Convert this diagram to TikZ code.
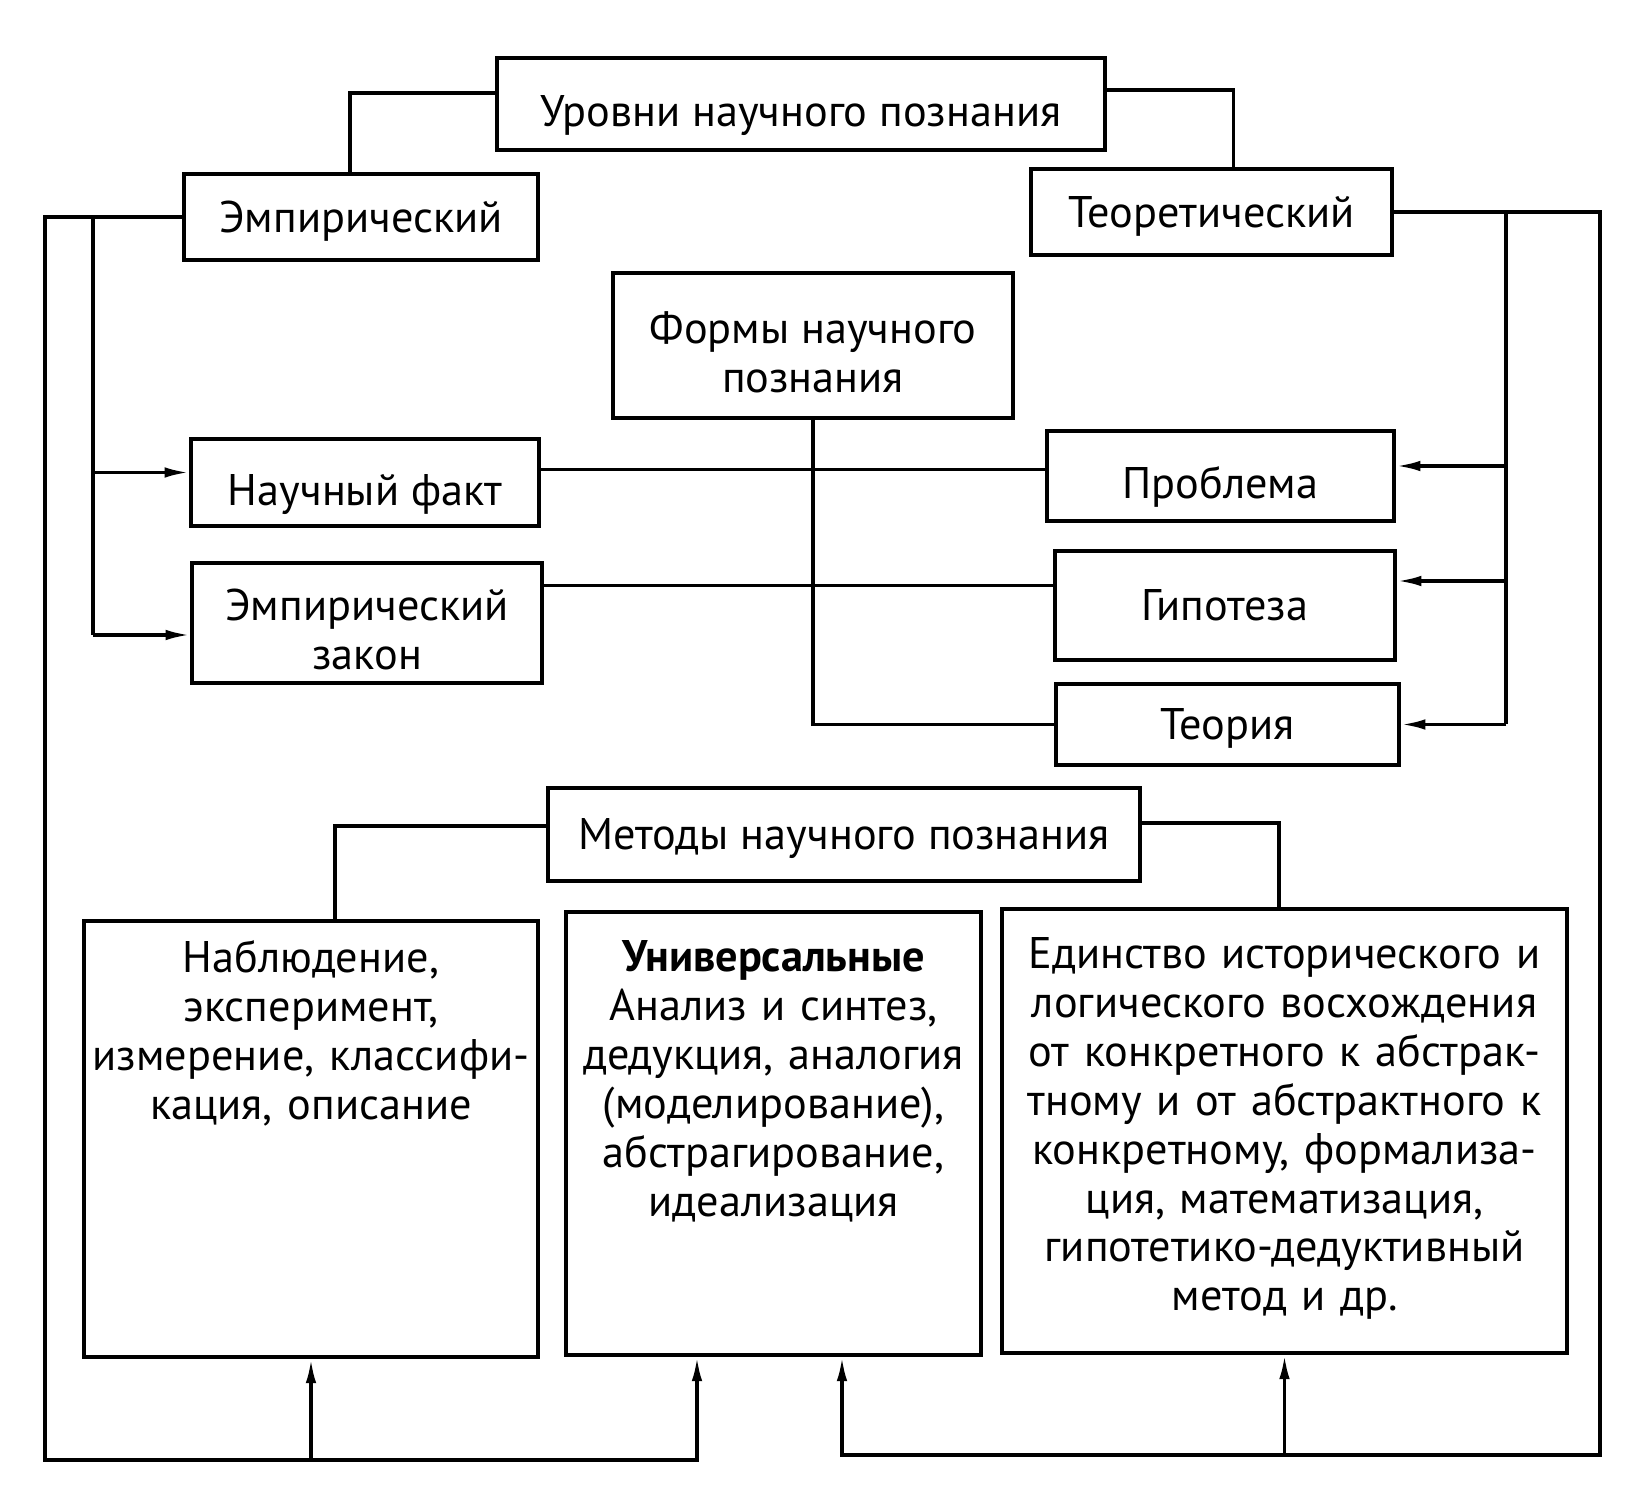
\documentclass[tikz,border=0pt]{standalone}
\usepackage{fontspec}
\setmainfont{PT Sans}
\usetikzlibrary{arrows.meta}

\begin{document}
\begin{tikzpicture}[
        box/.style={draw, line width=1pt, inner sep=2pt, font=\fontsize{12.6}{13.9}\selectfont, text height=8.8pt, text depth=0pt},
        lowbox/.style={box, text height=13pt},
        twobox/.style={box, align=center, text height=26.5pt},
        bigbox/.style={box, anchor=north, align=center, inner ysep=0pt},
        arr/.style={-{Latex[length=7pt, width=3pt]}},
        line width=1pt
    ]
        \useasboundingbox (0, 0) rectangle (16.5, -14.9);
        \node[lowbox, minimum width=6.08cm, minimum height=0.92cm] at (8.01, -1.04) (urovni) {Уровни научного познания};
        \node[box, minimum width=3.54cm, minimum height=0.86cm] at (3.61, -2.17) (emp) {Эмпирический};
        \node[box, minimum width=3.61cm, minimum height=0.86cm] at (12.115, -2.12) (teor) {Теоретический};
        \node[twobox, minimum width=4.00cm, minimum height=1.45cm] at (8.13, -3.455) (formy) {Формы научного\\познания};
        \node[lowbox, minimum width=3.48cm, minimum height=0.87cm] at (3.65, -4.825) (fakt) {Научный факт};
        \node[twobox, minimum width=3.50cm, minimum height=1.20cm] at (3.67, -6.23) (zakon) {Эмпирический\\закон};
        \node[lowbox, minimum width=3.47cm, minimum height=0.90cm] at (12.205, -4.76) (problema) {Проблема};
        \node[box, minimum width=3.40cm, minimum height=1.09cm] at (12.25, -6.055) (gipoteza) {Гипотеза};
        \node[box, minimum width=3.43cm, minimum height=0.81cm] at (12.275, -7.245) (teoriya) {Теория};
        \node[box, minimum width=5.92cm, minimum height=0.93cm] at (8.44, -8.345) (metody) {Методы научного познания};
        \node[bigbox, text width=4.40cm, text height=0.52cm, text depth=3.84cm] at (3.11, -9.19) (nabl) {Наблюдение,\\эксперимент,\\измерение, классифи-\\кация, описание};
        \node[bigbox, text width=4.01cm, text height=0.60cm, text depth=3.83cm] at (7.735, -9.10) (univ) {\textbf{Универсальные}\\Анализ и синтез,\\дедукция, аналогия\\(моделирование),\\абстрагирование,\\идеализация};
        \node[bigbox, text width=5.51cm, text height=0.60cm, text depth=3.84cm] at (12.845, -9.07) (edin) {Единство исторического и\\логического восхождения\\от конкретного к абстрак-\\тному и от абстрактного к\\конкретному, формализа-\\ция, математизация,\\гипотетико-дедуктивный\\метод и др.};
        \coordinate (eout) at (0.45, -14.60);
        \coordinate (ein) at (0.93, -6.35);
        \coordinate (tout) at (16.00, -14.55);
        \coordinate (tin) at (15.06, -7.245);
        \draw ([yshift=0.11cm]urovni.west) -| ([xshift=-0.11cm]emp.north);
        \draw ([yshift=0.14cm]urovni.east) -| ([xshift=0.22cm]teor.north);
        \draw[arr] (emp.west) -| (eout) -| ([xshift=-0.765cm]univ.south);
        \draw[arr] (eout -| nabl.south) -- (nabl.south);
        \draw (emp.west -| ein) -- (ein);
        \draw[arr] (ein) -- (ein -| zakon.west);
        \draw[arr] ([yshift=0.1cm]fakt.west -| ein) -- ([yshift=0.1cm]fakt.west);
        \draw[arr] (teor.east) -| (tout) -| ([xshift=0.685cm]univ.south);
        \draw[arr] (tout -| edin.south) -- (edin.south);
        \draw (teor.east -| tin) -- (tin);
        \draw[arr] (tin) -- (teoriya.east);
        \draw[arr] ([yshift=0.1cm]problema.east -| tin) -- ([yshift=0.1cm]problema.east);
        \draw[arr] ([yshift=0.245cm]gipoteza.east -| tin) -- ([yshift=0.245cm]gipoteza.east);
        \draw ([yshift=0.13cm]fakt.east) -- ([yshift=0.13cm]fakt.east -| problema.west);
        \draw ([yshift=0.2cm]gipoteza.west) -- ([yshift=0.2cm]gipoteza.west -| zakon.east);
        \draw (formy.south) |- (teoriya.west);
        \draw ([yshift=0.085cm]metody.west) -| ([xshift=0.24cm]nabl.north);
        \draw ([yshift=0.115cm]metody.east) -| ([xshift=-0.055cm]edin.north);
    \end{tikzpicture}
\end{document}
